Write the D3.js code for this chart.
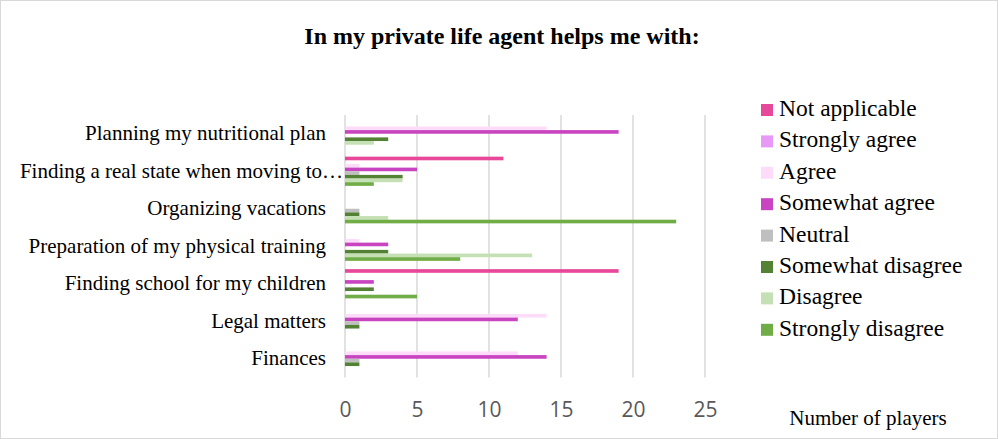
<!DOCTYPE html>
<html>
<head>
<meta charset="utf-8">
<script src="https://cdn.jsdelivr.net/npm/d3@7"></script>
<style>
  body { margin: 0; background: #fff; }
  svg { display: block; }
</style>
</head>
<body>
<script>
// categories, top to bottom as drawn
var categories = [
  'Planning my nutritional plan',
  'Finding a real state when moving to\u2026',
  'Organizing vacations',
  'Preparation of my physical training',
  'Finding school for my children',
  'Legal matters',
  'Finances'
]

var seriesNames = ['Not applicable', 'Strongly agree', 'Agree', 'Somewhat agree',
  'Neutral', 'Somewhat disagree', 'Disagree', 'Strongly disagree']

var seriesColors = ['#e8489a', '#e899f8', '#fcdcf8', '#c944c0',
  '#bfbfbf', '#548235', '#c5e0b4', '#70ad47']

// one array per series, in category order
var notApplicable    = [0, 11, 0, 0, 19, 0, 0]
var stronglyAgree    = [0, 0, 0, 0, 0, 0, 0]
var agree            = [14, 1, 0, 1, 0, 14, 12]
var somewhatAgree    = [19, 5, 0, 3, 2, 12, 14]
var neutral          = [0, 1, 1, 0, 0, 1, 1]
var somewhatDisagree = [3, 4, 1, 3, 2, 1, 1]
var disagree         = [2, 4, 3, 13, 0, 0, 0]
var stronglyDisagree = [0, 2, 23, 8, 5, 0, 0]

var seriesValues = [notApplicable, stronglyAgree, agree, somewhatAgree,
  neutral, somewhatDisagree, disagree, stronglyDisagree]

var xTicks = [0, 5, 10, 15, 20, 25]

var W = 998, H = 439
var serif = '"Liberation Serif", "Times New Roman", serif'

var svg = d3.select(document.body).append('svg')
  .attr('width', W)
  .attr('height', H)

svg.append('rect')
  .attr('x', 0.5).attr('y', 0.5)
  .attr('width', W - 1).attr('height', H - 1)
  .attr('fill', '#fff')
  .attr('stroke', '#d9d9d9')

var x = d3.scaleLinear().domain([0, 25]).range([345, 705])
var y = d3.scaleBand().domain(categories).range([115, 377.5])
var inner = d3.scaleBand().domain(seriesNames)
  .range([4.15, y.bandwidth() - 4.15])

// grid
svg.append('g').selectAll('line').data(xTicks).enter().append('line')
  .attr('x1', function(d) { return x(d) })
  .attr('x2', function(d) { return x(d) })
  .attr('y1', 115)
  .attr('y2', 377.5)
  .attr('stroke', '#d9d9d9')
  .attr('stroke-width', 1.5)

// bars
var rows = []
categories.forEach(function(c, i) {
  seriesNames.forEach(function(s, j) {
    rows.push({ cat: c, ser: s, v: seriesValues[j][i], color: seriesColors[j] })
  })
})

svg.append('g').selectAll('rect').data(rows.filter(function(d) { return d.v > 0 }))
  .enter().append('rect')
  .attr('x', x(0))
  .attr('y', function(d) { return y(d.cat) + inner(d.ser) })
  .attr('width', function(d) { return x(d.v) - x(0) })
  .attr('height', inner.bandwidth())
  .attr('fill', function(d) { return d.color })

// x axis labels
var xAxis = d3.axisBottom(x).tickValues(xTicks).tickSize(0).tickPadding(0)
var gx = svg.append('g').attr('transform', 'translate(0,402)').call(xAxis)
gx.select('.domain').remove()
gx.selectAll('text')
  .attr('font-family', '"Open Sans", sans-serif')
  .attr('font-size', 21)
  .attr('fill', '#595959')

// category labels
var yAxis = d3.axisLeft(y).tickSize(0).tickPadding(0)
var gy = svg.append('g').attr('transform', 'translate(326,0)').call(yAxis)
gy.select('.domain').remove()
gy.selectAll('text')
  .attr('font-family', serif)
  .attr('font-size', 21)
  .attr('fill', '#000')
  // the truncated label runs past the others, like excel does it
  .attr('x', function(d) { return d.indexOf('\u2026') >= 0 ? 17 : 0 })

// title
svg.append('text')
  .attr('x', 502).attr('y', 44)
  .attr('text-anchor', 'middle')
  .attr('font-family', serif)
  .attr('font-size', 24)
  .attr('font-weight', 'bold')
  .text('In my private life agent helps me with:')

// legend
var lg = svg.append('g').selectAll('g').data(seriesNames).enter().append('g')
  .attr('transform', function(d, i) { return 'translate(761,' + (110 + i * 31.4) + ')' })
lg.append('rect')
  .attr('x', 0).attr('y', -6)
  .attr('width', 12).attr('height', 12)
  .attr('fill', function(d, i) { return seriesColors[i] })
lg.append('text')
  .attr('x', 18).attr('y', 6)
  .attr('font-family', serif)
  .attr('font-size', 23.5)
  .attr('fill', '#000')
  .text(function(d) { return d })

// axis title
svg.append('text')
  .attr('x', 868).attr('y', 425)
  .attr('text-anchor', 'middle')
  .attr('font-family', serif)
  .attr('font-size', 21)
  .text('Number of players')
</script>
</body>
</html>
